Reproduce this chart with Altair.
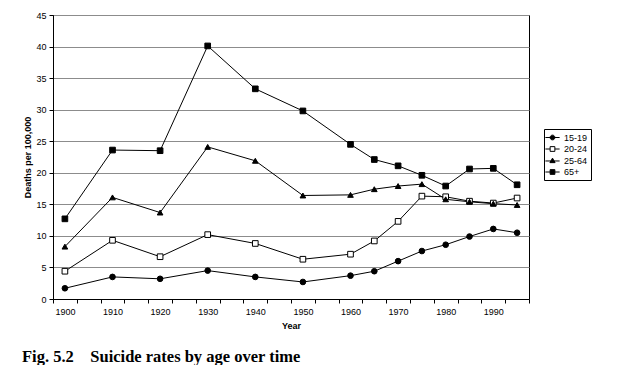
import altair as alt
import pandas as pd

# ---- data ----
years = [1900, 1910, 1920, 1930, 1940, 1950, 1960, 1965, 1970, 1975, 1980, 1985, 1990, 1995]
categories = [1900, 1905, 1910, 1915, 1920, 1925, 1930, 1935, 1940, 1945,
              1950, 1955, 1960, 1965, 1970, 1975, 1980, 1985, 1990, 1995]
series_names = ["15-19", "20-24", "25-64", "65+"]
rate_15_19 = [1.7, 3.5, 3.2, 4.5, 3.5, 2.7, 3.7, 4.4, 6.0, 7.6, 8.6, 9.9, 11.1, 10.5]
rate_20_24 = [4.4, 9.3, 6.7, 10.2, 8.8, 6.3, 7.1, 9.2, 12.3, 16.3, 16.2, 15.5, 15.2, 16.0]
rate_25_64 = [8.3, 16.1, 13.7, 24.1, 21.9, 16.4, 16.5, 17.4, 17.9, 18.2, 15.8, 15.4, 15.1, 14.9]
rate_65_up = [12.7, 23.6, 23.5, 40.1, 33.3, 29.8, 24.5, 22.1, 21.1, 19.6, 17.9, 20.6, 20.7, 18.1]
y_ticks = [0, 5, 10, 15, 20, 25, 30, 35, 40, 45]
caption = "Fig. 5.2\u00a0\u00a0\u00a0\u00a0Suicide rates by age over time"

marker_shapes = ["circle", "square", "triangle-up", "square"]
marker_fills = ["black", "white", "black", "black"]
marker_strokes = ["black", "black", "black", "black"]

rows = []
for name, vals in zip(series_names, [rate_15_19, rate_20_24, rate_25_64, rate_65_up]):
    for yr, v in zip(years, vals):
        rows.append({"year": yr, "series": name, "rate": v})
df = pd.DataFrame(rows)

FONT = "Liberation Sans"

x_enc = alt.X(
    "year:O",
    scale=alt.Scale(type="band", domain=categories, paddingInner=0, paddingOuter=0),
    bandPosition=0.5,
    axis=alt.Axis(
        title="Year",
        labelExpr="datum.value % 10 == 0 ? datum.label : ''",
        labelAngle=0,
        tickBand="extent",
        tickSize=4,
        tickColor="black",
        domainColor="black",
        labelFont=FONT,
        labelFontSize=9,
        labelColor="black",
        labelPadding=4,
        titleFont=FONT,
        titleFontSize=9,
        titleFontWeight="bold",
        titleColor="black",
        titlePadding=5,
        grid=False,
    ),
)
y_enc = alt.Y(
    "rate:Q",
    scale=alt.Scale(domain=[0, 45], nice=False, zero=True),
    axis=alt.Axis(
        title="Deaths per 100,000",
        values=y_ticks,
        grid=True,
        gridColor="#8c8c8c",
        gridWidth=1,
        tickSize=4,
        tickColor="black",
        domainColor="black",
        labelFont=FONT,
        labelFontSize=9,
        labelColor="black",
        labelPadding=3,
        titleFont=FONT,
        titleFontSize=9,
        titleFontWeight="bold",
        titleColor="black",
        titlePadding=3,
    ),
)

base = alt.Chart(df)

lines = base.mark_line(color="black", strokeWidth=1).encode(
    x=x_enc, y=y_enc, detail="series:N"
)

point_layers = []
for name, shp, fc in zip(series_names, marker_shapes, marker_fills):
    point_layers.append(
        base.transform_filter(alt.datum.series == name).mark_point(
            shape=shp, filled=True, fill=fc, stroke="black", strokeWidth=1,
            size=32, opacity=1
        ).encode(x=x_enc, y=y_enc)
    )

legend_shapes = [
    "M-1.5,0H1.5M0.5,0A0.5,0.5 0 1 1 -0.5,0A0.5,0.5 0 1 1 0.5,0Z",
    "M-1.5,0H-0.5M0.5,0H1.5M-0.5,-0.5H0.5V0.5H-0.5Z",
    "M-1.5,0.1H1.5M0,-0.5L0.55,0.45H-0.55Z",
    "M-1.5,0H1.5M-0.5,-0.5H0.5V0.5H-0.5Z",
]

leg = alt.Legend(
    title=None, orient="none", legendX=491, legendY=114,
    strokeColor="black", fillColor="white", padding=3,
    symbolSize=90, symbolStrokeWidth=1,
    labelFont=FONT, labelFontSize=9, labelColor="black",
    labelOffset=6, rowPadding=0.5,
)

legend_layer = base.transform_filter("false").mark_point(
    filled=True, strokeWidth=1, opacity=1
).encode(
    x=x_enc,
    y=y_enc,
    shape=alt.Shape("series:N",
                    scale=alt.Scale(domain=series_names, range=legend_shapes),
                    legend=leg),
    fill=alt.Fill("series:N",
                  scale=alt.Scale(domain=series_names, range=marker_fills),
                  legend=leg),
    stroke=alt.Stroke("series:N",
                      scale=alt.Scale(domain=series_names, range=marker_strokes),
                      legend=leg),
)

cap = alt.Chart(alt.Data(values=[{"t": caption}])).mark_text(
    font="Liberation Serif", fontSize=16.5, fontWeight="bold", align="left",
    baseline="middle", color="black"
).encode(text="t:N", x=alt.value(-31), y=alt.value(342))

chart = alt.layer(lines, *point_layers, legend_layer, cap).properties(
    width=476,
    height=284,
    autosize=alt.AutoSizeParams(type="none"),
    padding={"left": 45, "top": 7, "right": 87, "bottom": 66},
    background="white",
).configure_view(stroke="black", strokeWidth=1)

chart.save("out.html", embed_options={"renderer": "svg", "actions": False})
